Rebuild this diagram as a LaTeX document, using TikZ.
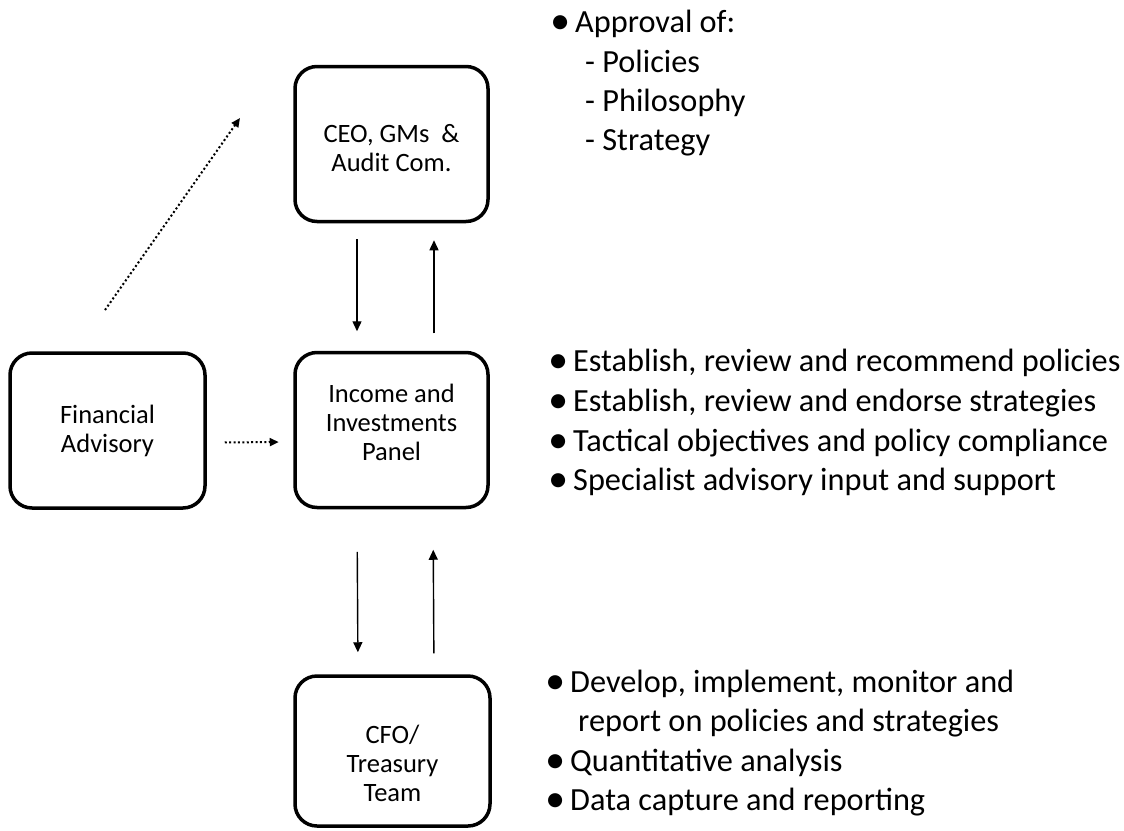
\documentclass[tikz,border=0pt]{standalone}
\usepackage{fontspec}
\setmainfont{Carlito}
\newfontfamily\symfont{DejaVu Sans}
\usetikzlibrary{arrows.meta}
% bullet glyph set in a fixed-width box
\newcommand\dotmark{\makebox[23pt][l]{\raisebox{5pt}{\symfont\fontsize{18.5}{18.5}\selectfont ●}}}
\begin{document}
\begin{tikzpicture}[x=1pt,y=-1pt,
  unit/.style={draw, line width=3.5pt, rounded corners=22pt, minimum width=193pt,
    minimum height=155pt, align=center, inner sep=0pt,
    font=\fontsize{26.5}{29}\selectfont},
  flow/.style={line width=1.4pt, -{Triangle[length=10pt,width=9pt]}},
  hint/.style={line width=2pt, dash pattern=on 2pt off 2.4pt,
    -{Triangle[length=9pt,width=8pt]}},
  note/.style={anchor=base west, inner sep=0pt, font=\fontsize{32.3}{40}\selectfont}
]
\useasboundingbox (0,0) rectangle (1124,830);

% organisational units (struts place the lines inside each box)
\node[unit] (ceo) at (391.5,144) {\rule{0pt}{26pt}CEO, GMs\ \ \&\\Audit Com.};
\node[unit, minimum width=195pt] (adv) at (107.5,430.5) {Financial\\Advisory};
\node[unit] (panel) at (391.5,430) {Income and\\Investments\\\rule[-16pt]{0pt}{16pt}Panel};
\node[unit, minimum width=195pt, minimum height=150pt] (cfo) at (392.5,751) {\rule{0pt}{44pt}CFO/\\Treasury\\Team};

% reporting lines
\draw[flow, shorten <=16pt, shorten >=19.5pt] ([xshift=-34.5pt]ceo.south) -- ([xshift=-34.5pt]panel.north);
\draw[flow, shorten <=17.5pt, shorten >=17pt] ([xshift=42.5pt]panel.north) -- ([xshift=42.5pt]ceo.south);
\draw[flow, shorten <=42.5pt, shorten >=22pt] ([xshift=-34.5pt]panel.south) -- ([xshift=-34.5pt]cfo.north);
\draw[flow, shorten <=21pt, shorten >=40.5pt] ([xshift=41.5pt]cfo.north) -- ([xshift=41.5pt]panel.south);

% advisory input
\coordinate (advtail) at (105,310);
\coordinate (advtip) at (240,118);
\draw[hint] (advtail) -- (advtip);
\draw[hint, shorten <=18pt, shorten >=14.5pt] ([yshift=-12pt]adv.east) -- ([yshift=-12pt]panel.west);

% responsibilities
\node[note] (ap1) at (552,32) {\dotmark Approval of:};
\node[note] (ap2) at (585,72) {- Policies};
\node[note] (ap3) at (585,111) {- Philosophy};
\node[note] (ap4) at (585,150) {- Strategy};

\node[note] (pn1) at (550,371) {\dotmark Establish, review and recommend policies};
\node[note] (pn2) at (550,411) {\dotmark Establish, review and endorse strategies};
\node[note] (pn3) at (550,451) {\dotmark Tactical objectives and policy compliance};
\node[note] (pn4) at (550,490) {\dotmark Specialist advisory input and support};

\node[note] (tr1) at (547,692) {\dotmark Develop, implement, monitor and};
\node[note] (tr2) at (578,731) {report on policies and strategies};
\node[note] (tr3) at (547,771) {\dotmark Quantitative analysis};
\node[note] (tr4) at (547,810) {\dotmark Data capture and reporting};
\end{tikzpicture}
\end{document}
